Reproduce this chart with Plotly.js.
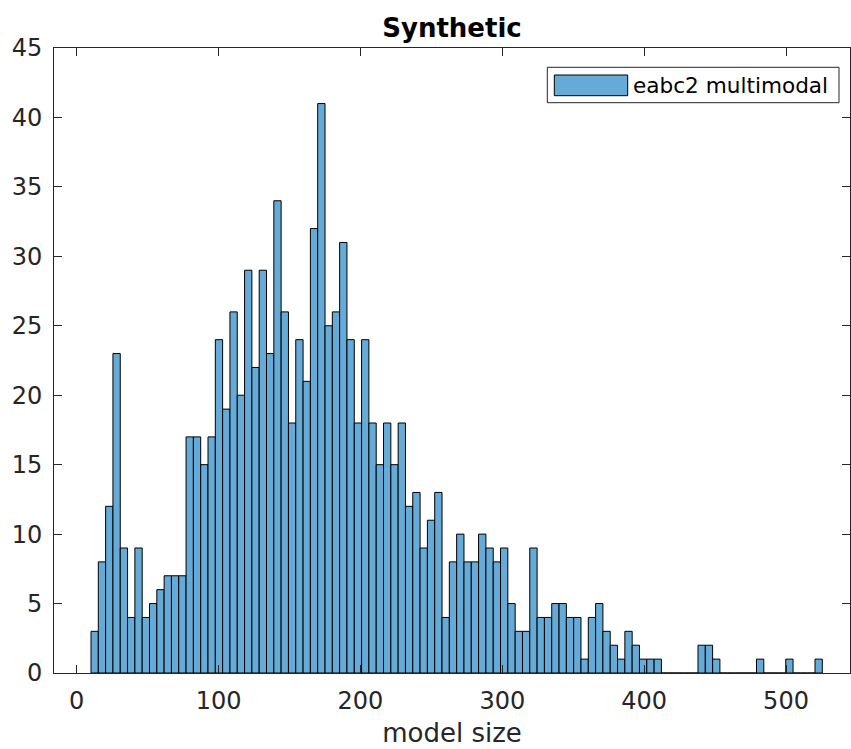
<!DOCTYPE html>
<html>
<head>
<meta charset="utf-8">
<script src="https://cdn.plot.ly/plotly-3.0.1.min.js"></script>
<style>
  html, body { margin: 0; padding: 0; background: #ffffff; }
  #chart { width: 851px; height: 749px; }
</style>
</head>
<body>
<div id="chart"></div>
<script>
// ---- data (100 bins) ----
const binStart = 10.08;     // left edge of first bin (model size)
const binWidth = 5.155;     // bin width (model size)
const counts = [
  3, 8, 12, 23, 9, 4, 9, 4, 5, 6,
  7, 7, 7, 17, 17, 15, 17, 24, 19, 26,
  20, 29, 22, 29, 23, 34, 26, 18, 24, 21,
  32, 41, 25, 26, 31, 24, 18, 24, 18, 15,
  18, 15, 18, 12, 13, 9, 11, 13, 4, 8,
  10, 8, 8, 10, 9, 8, 9, 5, 3, 3,
  9, 4, 4, 5, 5, 4, 4, 1, 4, 5,
  3, 2, 1, 3, 2, 1, 1, 1, 0, 0,
  0, 0, 0, 2, 2, 1, 0, 0, 0, 0,
  0, 1, 0, 0, 0, 1, 0, 0, 0, 1
];
const seriesName = 'eabc2 multimodal';
const chartTitle = 'Synthetic';
const xLabel = 'model size';
const xTicks = [0, 100, 200, 300, 400, 500];
const yTicks = [0, 5, 10, 15, 20, 25, 30, 35, 40, 45];

// bin centers from the histogram bin definition
const binCenters = counts.map((_, i) => binStart + (i + 0.5) * binWidth);

const W = 851, H = 749;
const M = { l: 54, r: 1, t: 48, b: 76 };
const fx = px => (px - M.l) / (W - M.l - M.r);
const fy = py => (H - M.b - py) / (H - M.t - M.b);

const axisColor = '#262626';
const barColor = '#66AAD7';
const font = 'DejaVu Sans, Liberation Sans, sans-serif';

const trace = {
  type: 'bar',
  x: binCenters,
  y: counts,
  width: binWidth,
  name: seriesName,
  marker: { color: barColor, line: { color: '#000000', width: 1 } },
  showlegend: false,
  hoverinfo: 'x+y'
};

const layout = {
  width: W, height: H,
  margin: { l: M.l, r: M.r, t: M.t, b: M.b, pad: 0 },
  paper_bgcolor: '#ffffff',
  plot_bgcolor: '#ffffff',
  font: { family: font, size: 24, color: axisColor },
  bargap: 0,
  title: {
    text: '<b>' + chartTitle + '</b>',
    font: { family: font, size: 26, color: '#000000' },
    x: 0.5, xref: 'paper', xanchor: 'center',
    y: 1 - 28 / H, yref: 'container', yanchor: 'middle'
  },
  xaxis: {
    range: [-16, 545.1],
    tickvals: xTicks,
    ticktext: xTicks.map(String),
    ticks: 'inside', ticklen: 8, tickwidth: 1, tickcolor: axisColor,
    showline: true, linecolor: axisColor, linewidth: 1, mirror: 'ticks',
    showgrid: false, zeroline: false,
    tickfont: { family: font, size: 24, color: axisColor },
    ticklabelstandoff: 6,
    title: { text: xLabel, font: { family: font, size: 26, color: axisColor }, standoff: 10 }
  },
  yaxis: {
    range: [0, 45],
    tickvals: yTicks,
    ticktext: yTicks.map(String),
    ticks: 'inside', ticklen: 8, tickwidth: 1, tickcolor: axisColor,
    showline: true, linecolor: axisColor, linewidth: 1, mirror: 'ticks',
    showgrid: false, zeroline: false,
    tickfont: { family: font, size: 24, color: axisColor },
    ticklabelstandoff: 6
  },
  shapes: [
    { type: 'rect', xref: 'paper', yref: 'paper',
      x0: fx(547.3), x1: fx(839), y0: fy(102.7), y1: fy(67.3),
      line: { color: axisColor, width: 1 }, fillcolor: '#ffffff' },
    { type: 'rect', xref: 'paper', yref: 'paper',
      x0: fx(554.3), x1: fx(627.7), y0: fy(95.7), y1: fy(75),
      line: { color: '#000000', width: 1 }, fillcolor: barColor }
  ],
  annotations: [
    { text: seriesName, xref: 'paper', yref: 'paper',
      x: fx(631), y: fy(85.5), xanchor: 'left', yanchor: 'middle',
      showarrow: false, font: { family: font, size: 21.6, color: '#000000' } }
  ]
};

Plotly.newPlot('chart', [trace], layout, { staticPlot: true, displayModeBar: false });
</script>
</body>
</html>
